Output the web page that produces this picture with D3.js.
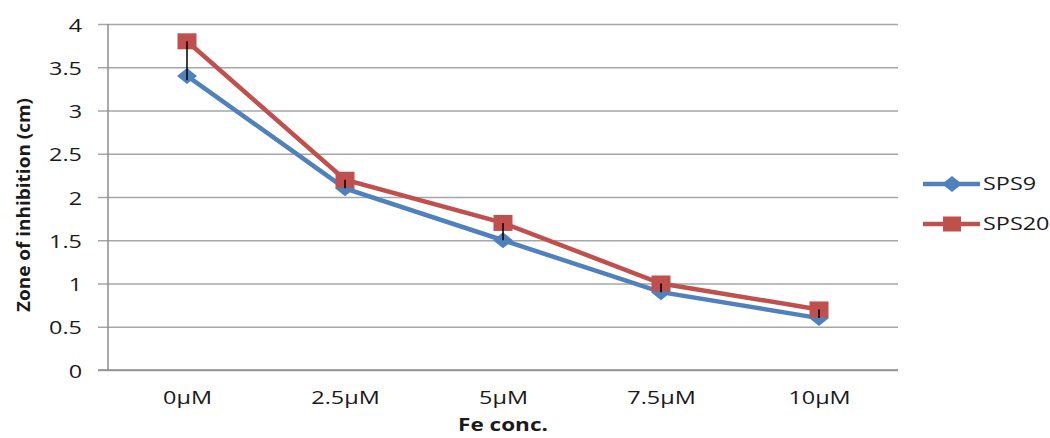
<!DOCTYPE html>
<html><head><meta charset="utf-8">
<script src="https://cdn.jsdelivr.net/npm/d3@7"></script>
<style>
body{margin:0;background:#fff;}
text{font-family:"Open Sans",sans-serif;fill:#1a1a1a;}
</style></head>
<body><svg id="c" width="1050" height="438"></svg>
<script>
const categories = ["0µM","2.5µM","5µM","7.5µM","10µM"];
const sps9 = [3.4, 2.1, 1.5, 0.9, 0.6];
const sps20 = [3.8, 2.2, 1.7, 1.0, 0.7];
const sps20ErrMinus = [0.45, 0.1, 0.2, 0.1, 0.1];
const yTicks = [0,0.5,1,1.5,2,2.5,3,3.5,4];
const seriesNames = ["SPS9","SPS20"];
const colors = ["#4F81BD","#C0504D"];

const svg = d3.select("#c");
const L=108, R=898, T=24, B=370;
const x = d3.scalePoint().domain(categories).range([L,R]).padding(0.5);
const y = d3.scaleLinear().domain([0,4]).range([B,T]);
const K = 1.3;
function stretch(sel,k){ sel.each(function(){ const w=this.getComputedTextLength(); d3.select(this).attr("textLength",w*k).attr("lengthAdjust","spacingAndGlyphs");}); }

// y axis with gridlines
const ya = svg.append("g").attr("transform",`translate(${L},0)`)
  .call(d3.axisLeft(y).tickValues(yTicks).tickFormat(d3.format("")).tickSize(-(R-L)).tickPadding(26));
ya.select(".domain").remove();
ya.selectAll(".tick line").attr("x1",-10).attr("x2",R-L).attr("stroke","#a6a6a6").attr("stroke-width",1.5);
ya.selectAll(".tick text").attr("font-size",18).attr("dy",null).attr("y",7).style("font-family","Open Sans").attr("fill","#1a1a1a");
stretch(ya.selectAll(".tick text"),K);
// axis lines
svg.append("line").attr("x1",L).attr("x2",L).attr("y1",T).attr("y2",B).attr("stroke","#8c8c8c").attr("stroke-width",1.5);
svg.append("line").attr("x1",L-10).attr("x2",R).attr("y1",B).attr("y2",B).attr("stroke","#8c8c8c").attr("stroke-width",1.5);

// x axis
const xa = svg.append("g").attr("transform",`translate(0,${B})`)
  .call(d3.axisBottom(x).tickSize(0).tickPadding(21));
xa.select(".domain").remove();
xa.selectAll(".tick text").attr("font-size",18).style("font-family","Open Sans").attr("fill","#1a1a1a");
stretch(xa.selectAll(".tick text"),K);

// titles
const xt = svg.append("text").attr("x",503).attr("y",431).attr("text-anchor","middle")
  .attr("font-size",18).attr("font-weight","bold").text("Fe conc.");
stretch(xt,1.25);
svg.append("text").attr("transform","translate(30,205) rotate(-90)").attr("text-anchor","middle")
  .attr("font-size",18).attr("font-weight","bold").attr("textLength",214).attr("lengthAdjust","spacingAndGlyphs")
  .text("Zone of inhibition (cm)");

const line = d3.line().x((d,i)=>x(categories[i])).y(d=>y(d));
const diamond = (cx,cy)=>`M${cx},${cy-8}L${cx+10},${cy}L${cx},${cy+8}L${cx-10},${cy}Z`;

// SPS9
svg.append("path").datum(sps9).attr("d",line).attr("fill","none").attr("stroke",colors[0]).attr("stroke-width",4.5);
svg.selectAll(".d9").data(sps9).enter().append("path").attr("d",(d,i)=>diamond(x(categories[i]),y(d))).attr("fill",colors[0]);
// SPS20
svg.append("path").datum(sps20).attr("d",line).attr("fill","none").attr("stroke",colors[1]).attr("stroke-width",4.5);
svg.selectAll(".s20").data(sps20).enter().append("rect")
  .attr("x",(d,i)=>x(categories[i])-9.5).attr("y",d=>y(d)-8).attr("width",19).attr("height",16).attr("fill",colors[1]);
// error bars (minus)
svg.selectAll(".eb").data(sps20).enter().append("line")
  .attr("x1",(d,i)=>x(categories[i])).attr("x2",(d,i)=>x(categories[i]))
  .attr("y1",d=>y(d)).attr("y2",(d,i)=>y(d-sps20ErrMinus[i])).attr("stroke","#000").attr("stroke-width",1.5);

// legend
const lg = [{y:184},{y:224}];
lg.forEach((o,i)=>{
  svg.append("line").attr("x1",923).attr("x2",980).attr("y1",o.y).attr("y2",o.y).attr("stroke",colors[i]).attr("stroke-width",4.5);
  if(i===0) svg.append("path").attr("d",diamond(952,o.y)).attr("fill",colors[0]);
  else svg.append("rect").attr("x",943).attr("y",o.y-7.5).attr("width",18).attr("height",15).attr("fill",colors[1]);
  const t = svg.append("text").attr("x",983).attr("y",o.y+6).attr("font-size",18).text(seriesNames[i]);
  stretch(t,K);
});
</script></body></html>
